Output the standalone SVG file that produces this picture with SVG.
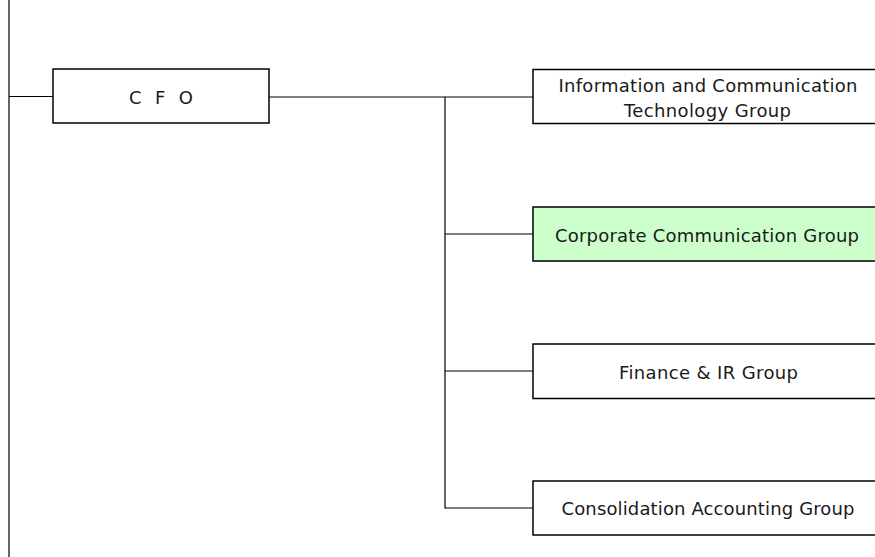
<svg xmlns="http://www.w3.org/2000/svg" width="875" height="557" viewBox="0 0 875 557">
<style>
.box{fill:#fff;stroke:#000;stroke-width:1.5}
.green{fill:#ccffcc}
.ln{stroke:#000;stroke-width:1.2;fill:none}
.t{font-family:"DejaVu Sans",Verdana,sans-serif;font-size:18px;fill:#1a1a1a;text-anchor:middle}
</style>
<rect width="875" height="557" fill="#fff"/>
<g id="connectors">
<line class="ln" x1="9" y1="0" x2="9" y2="557"/>
<line class="ln" x1="9" y1="96.5" x2="53" y2="96.5"/>
<line class="ln" x1="269" y1="97" x2="533" y2="97"/>
<line class="ln" x1="445" y1="97" x2="445" y2="508.5"/>
<line class="ln" x1="445" y1="234" x2="533" y2="234"/>
<line class="ln" x1="445" y1="371" x2="533" y2="371"/>
<line class="ln" x1="445" y1="508" x2="533" y2="508"/>
</g>
<g id="cfo">
<rect class="box" x="53" y="69" width="216" height="54"/>
<text class="t" x="161" y="104" textLength="64" lengthAdjust="spacing">C F O</text>
</g>
<g id="ict">
<rect class="box" x="533" y="69.5" width="348" height="54"/>
<text class="t" x="708" y="91.5" textLength="299" lengthAdjust="spacing">Information and Communication</text>
<text class="t" x="707.5" y="116.5" textLength="167" lengthAdjust="spacing">Technology Group</text>
</g>
<g id="corpcomm">
<rect class="box green" x="533" y="207" width="348" height="54"/>
<text class="t" x="707" y="241.5" textLength="304" lengthAdjust="spacing">Corporate Communication Group</text>
</g>
<g id="finance">
<rect class="box" x="533" y="344" width="348" height="54.5"/>
<text class="t" x="708.5" y="378.5" textLength="179" lengthAdjust="spacing">Finance &amp; IR Group</text>
</g>
<g id="consol">
<rect class="box" x="533" y="481" width="348" height="54"/>
<text class="t" x="708" y="515" textLength="293" lengthAdjust="spacing">Consolidation Accounting Group</text>
</g>
</svg>
